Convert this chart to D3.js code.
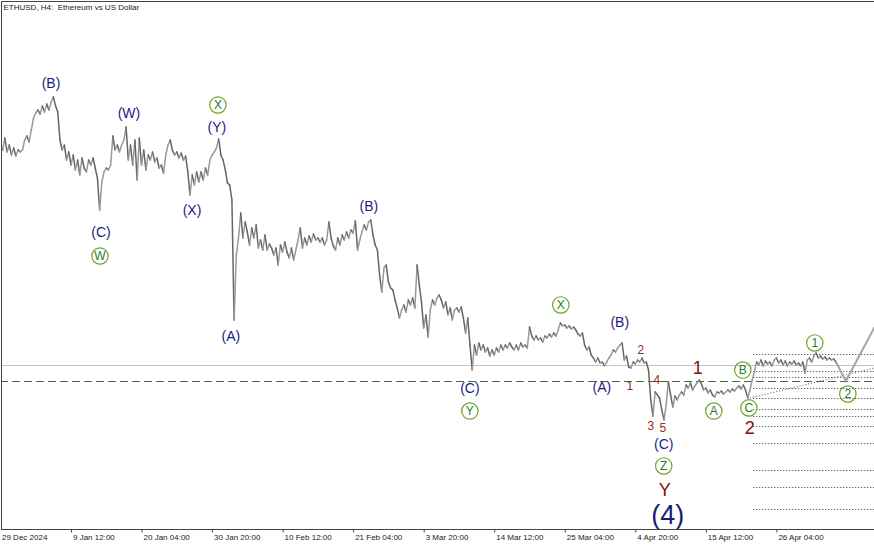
<!DOCTYPE html>
<html><head><meta charset="utf-8">
<script src="https://cdn.jsdelivr.net/npm/d3@7"></script>
<style>html,body{margin:0;padding:0;background:#fff;} svg{display:block;}</style>
</head><body><svg id="c" width="874" height="545"></svg>
<script>
// ---------- data ----------
const titleText = "ETHUSD, H4:\u00a0 Ethereum vs US Dollar";
const startTime = "2024-12-29T20:00:00Z";   // first visible H4 bar
const barHours = 4;
const stepBars = 2;                          // one close every 2 bars (8h)
const closePrices = [
3436,3376,3465,3362,3413,3339,3391,3332,3376,3362,
3376,3450,3480,3436,3524,3613,3650,3672,3642,3702,
3657,3716,3672,3731,3768,3702,3657,3450,3376,3413,
3302,3362,3265,3339,3229,3302,3192,3317,3243,3214,
3302,3265,3317,3243,3169,2933,3140,3214,3243,3229,
3265,3480,3376,3413,3362,3413,3450,3546,3302,3413,
3265,3450,3155,3465,3265,3376,3229,3339,3302,3362,
3288,3317,3243,3265,3206,3339,3413,3450,3376,3339,
3362,3317,3354,3302,3332,3214,3044,3192,3118,3214,
3140,3214,3155,3243,3192,3302,3339,3362,3391,3458,
3339,3302,3229,3132,3118,3007,2120,2600,2726,2911,
2726,2844,2770,2674,2800,2726,2822,2652,2711,2637,
2748,2637,2682,2652,2600,2652,2526,2674,2622,2696,
2622,2578,2652,2563,2637,2711,2800,2652,2726,2674,
2741,2696,2756,2711,2726,2696,2726,2674,2711,2844,
2726,2667,2637,2726,2674,2748,2711,2770,2726,2785,
2763,2852,2637,2711,2770,2822,2785,2844,2859,2748,
2674,2637,2452,2327,2504,2526,2401,2356,2342,2268,
2209,2135,2194,2231,2179,2268,2231,2282,2209,2526,
2379,2253,2061,2157,1994,2194,2268,2231,2282,2305,
2268,2209,2253,2157,2209,2120,2194,2209,2179,2216,
2135,2024,2135,1935,1750,1935,1861,1950,1898,1935,
1883,1913,1854,1898,1861,1913,1883,1935,1898,1935,
1913,1950,1920,1898,1935,1898,1950,1920,1935,1913,
2068,2002,1972,2002,1972,1987,1957,2002,1987,2016,
1994,2024,2002,2046,2098,2076,2083,2061,2076,2053,
2068,2046,2016,2002,2024,1935,1898,1920,1861,1839,
1809,1839,1802,1809,1780,1809,1839,1861,1898,1883,
1913,1935,1950,1824,1854,1772,1765,1809,1795,1824,
1809,1839,1802,1809,1750,1529,1410,1588,1566,1543,
1455,1381,1492,1662,1566,1477,1558,1529,1566,1588,
1566,1639,1617,1654,1602,1632,1654,1676,1647,1602,
1617,1580,1602,1566,1551,1588,1580,1595,1573,1588,
1602,1588,1610,1595,1617,1632,1610,1639,1602,1543,
1602,1676,1736,1809,1787,1824,1780,1817,1795,1809,
1780,1824,1839,1802,1824,1787,1817,1780,1809,1795,
1817,1787,1802,1780,1809,1728,1824,1839,1809,1854,
1876,1839,1854,1832,1846,1824,1839,1824,1832,1809
];
const priceMin = 575, priceMax = 4485;
const firstTickLabel = "29 Dec 2024";
const tickTimes = ["2025-01-09T12:00:00Z","2025-01-20T04:00:00Z","2025-01-30T20:00:00Z","2025-02-10T12:00:00Z",
  "2025-02-21T04:00:00Z","2025-03-03T20:00:00Z","2025-03-14T12:00:00Z","2025-03-25T04:00:00Z",
  "2025-04-04T20:00:00Z","2025-04-15T12:00:00Z","2025-04-26T04:00:00Z"];
const tickLabels = ["9 Jan 12:00","20 Jan 04:00","30 Jan 20:00","10 Feb 12:00","21 Feb 04:00","3 Mar 20:00",
  "14 Mar 12:00","25 Mar 04:00","4 Apr 20:00","15 Apr 12:00","26 Apr 04:00"];
const bidLevel = 1787;
const dashedLevel = 1669;
const fibStartBar = 683;
const fibLevels = [1869,1743,1699,1617,1543,1462,1410,1336,1211,1011,886,723];
const projectionBars = [758, 767, 798];
const projectionPrices = [1809, 1669, 2144];
const trendBars = [680, 793];
const trendPrices = [1543, 1765];
// wave labels: text, bar, price, kind
const labelTexts  = ["(B)","(W)","X","(Y)","(C)","W","(X)","(A)","(B)","X","(B)","(C)","Y","(A)",
  "2","1","4","3","5","(C)","Z","Y","(4)","1","A","B","C","2","1","2"];
const labelBars   = [45.9,116.6,197.3,196.4,91.2,90.3,173.8,209.1,334.3,508.4,561.9,425.9,425.9,545.6,
  581,571,595.5,590,600.9,601.8,601.8,602.7,605.5,632.7,647.2,673.5,679,679.9,738.8,768.8];
const labelPrices = [3872,3650,3709,3546,2770,2593,2933,2002,2962,2231,2105,1617,1447,1625,
  1898,1632,1676,1336,1322,1203,1041,863,679,1765,1447,1750,1470,1322,1950,1573];
const labelKinds  = ["paren","paren","circle","paren","paren","circle","paren","paren","paren","circle","paren","paren","circle","paren",
  "small","small","small","small","small","paren","circle","big","huge","big","circle","circle","circle","big","circle","circle"];

// ---------- drawing ----------
const W = 874, H = 545, axisY = 529;
const FONT = "Liberation Sans, Arial, sans-serif";
const svg = d3.select("#c");
const t0 = Date.parse(startTime);
const barTime = b => new Date(t0 + b * barHours * 3600e3);

const x = d3.scaleUtc().domain([barTime(0), barTime(704)]).range([0.44, 776.4]);
const y = d3.scaleLinear().domain([priceMin, priceMax]).range([axisY, 0]);

svg.append("defs").append("clipPath").attr("id","plot")
  .append("rect").attr("x",1).attr("y",1).attr("width",W).attr("height",axisY-1);

const plot = svg.append("g").attr("clip-path","url(#plot)");

// full-width reference lines
plot.append("line").attr("x1",0).attr("x2",W).attr("y1",Math.round(y(bidLevel))+0.5).attr("y2",Math.round(y(bidLevel))+0.5)
  .attr("stroke","#c4c4c4").attr("stroke-width",1);
plot.append("line").attr("x1",0).attr("x2",W).attr("y1",Math.round(y(dashedLevel))+0.5).attr("y2",Math.round(y(dashedLevel))+0.5)
  .attr("stroke","#3d6f3d").attr("stroke-width",1).attr("stroke-dasharray","8,4");

// fib dotted levels
plot.selectAll("line.fib").data(fibLevels).enter().append("line").attr("class","fib")
  .attr("x1",x(barTime(fibStartBar))).attr("x2",W)
  .attr("y1",d=>Math.round(y(d))+0.5).attr("y2",d=>Math.round(y(d))+0.5)
  .attr("stroke","#333").attr("stroke-width",1).attr("stroke-dasharray","1,2");

// dotted trendline
const trendData = trendBars.map((b,i)=>[barTime(b), trendPrices[i]]);
plot.append("path").datum(trendData)
  .attr("d", d3.line().x(d=>x(d[0])).y(d=>y(d[1])))
  .attr("fill","none").attr("stroke","#555").attr("stroke-width",1).attr("stroke-dasharray","1,2");

// price series as segments
const series = closePrices.map((p,i)=>({t: barTime(i*stepBars), p}));
const segs = d3.pairs(series);
plot.selectAll("line.px").data(segs).enter().append("line").attr("class","px")
  .attr("x1",d=>x(d[0].t)).attr("y1",d=>y(d[0].p))
  .attr("x2",d=>x(d[1].t)).attr("y2",d=>y(d[1].p))
  .attr("stroke",d=> d[1].p >= d[0].p ? "#999999" : "#666666")
  .attr("stroke-width",1.5).attr("stroke-linecap","round");

// projection
const projData = projectionBars.map((b,i)=>[barTime(b), projectionPrices[i]]);
plot.append("path").datum(projData)
  .attr("d", d3.line().x(d=>x(d[0])).y(d=>y(d[1])))
  .attr("fill","none").attr("stroke","#a6a6a6").attr("stroke-width",2);

// labels
const styles = {
  paren: {size:14, fill:"#1b1b86"},
  small: {size:12, fill:"#9b2a17"},
  big:   {size:18, fill:"#7f1010"},
  huge:  {size:27, fill:"#1b1b76"},
  circle:{size:12, fill:"#1f7d1f"}
};
const lg = svg.append("g");
labelTexts.forEach((txt,i)=>{
  const cx = x(barTime(labelBars[i])), cy = y(labelPrices[i]);
  const st = styles[labelKinds[i]];
  if (labelKinds[i] === "circle") {
    lg.append("circle").attr("cx",cx).attr("cy",cy).attr("r",8.2)
      .attr("fill","none").attr("stroke","#6ea326").attr("stroke-width",1.2);
  }
  lg.append("text").attr("x",cx).attr("y",cy).attr("text-anchor","middle")
    .attr("dominant-baseline","central").attr("font-family",FONT)
    .attr("font-size",st.size).attr("fill",st.fill).text(txt);
});

// frame
svg.append("line").attr("x1",1).attr("x2",W).attr("y1",1.5).attr("y2",1.5).attr("stroke","#444").attr("stroke-width",1);
svg.append("line").attr("x1",1.5).attr("x2",1.5).attr("y1",1).attr("y2",axisY).attr("stroke","#444").attr("stroke-width",1);

// x axis
const axis = d3.axisBottom(x)
  .tickValues(tickTimes.map(s=>new Date(s)))
  .tickSize(3).tickSizeOuter(0)
  .tickFormat((d,i)=>tickLabels[i]);
const ag = svg.append("g").attr("transform",`translate(0,${axisY+0.5})`).call(axis);
ag.select(".domain").remove();
ag.append("line").attr("x1",1).attr("x2",W).attr("y1",0).attr("y2",0).attr("stroke","#444");
ag.selectAll(".tick line").attr("stroke","#444");
ag.selectAll(".tick text").attr("text-anchor","start").attr("x",1.5).attr("y",5)
  .attr("font-family",FONT).attr("font-size",8).attr("fill","#222");
ag.append("text").attr("x",2).attr("y",5).attr("dy","0.71em").attr("text-anchor","start")
  .attr("font-family",FONT).attr("font-size",8).attr("fill","#222").text(firstTickLabel);

// title
svg.append("text").attr("x",3.5).attr("y",10).attr("text-anchor","start").attr("font-family",FONT)
  .attr("font-size",8).attr("fill","#222").text(titleText);
</script></body></html>
